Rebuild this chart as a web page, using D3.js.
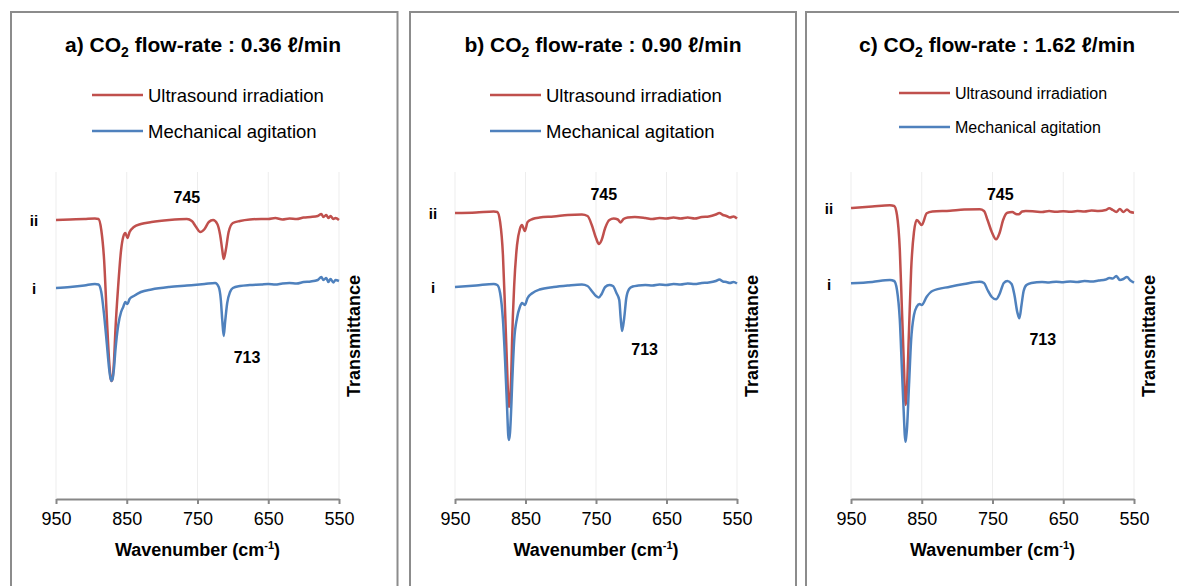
<!DOCTYPE html>
<html><head><meta charset="utf-8">
<script src="https://cdn.jsdelivr.net/npm/d3@7"></script>
<style>
body{margin:0;background:#fff;}
text{font-family:"Liberation Sans",Arial,Helvetica,sans-serif;fill:#000;}
</style>
</head><body>
<svg id="chart" width="1179" height="586"></svg>
<script>
// ---------- DATA (wavenumber cm-1, transmittance a.u.) ----------
const wavenumberTicks = [950, 850, 750, 650, 550];
const seriesNames = ["Ultrasound irradiation", "Mechanical agitation"];
const panelLetters = ["a)", "b)", "c)"];
const flowRates = ["0.36", "0.90", "1.62"];
const curveLabels = ["ii", "i"];
const peakLabels = ["745", "713"];

const a_ultrasound = [[950,279],[930,279.5],[910,280],[895,280.5],[890,280],[886,269],[882,239],[878,179],[875,139],[873,122],[871.5,118],[870,121],[868,138],[866,169],[862,214],[858,249],[855,262],[852,266],[849,261],[846,267],[840,272],[830,275],[815,277],[790,279],[765,280],[758,278],[752,272],[746,267],[740,270],[734,277],[728,279],[722,275],[718,264],[715,249],[713,240],[710,249],[706,267],[700,276],[690,278],[676,279.5],[660,280],[650,280],[640,281],[630,279.5],[620,280.5],[610,280],[600,281.5],[590,282],[580,283],[575,285],[572,282],[568,284],[565,281],[562,283],[558,280],[555,281],[550,279]];
const a_mechanical = [[950,211],[930,212],[910,213.5],[895,215],[890,214.5],[886,207],[882,184],[878,154],[875,131],[873,121],[871.5,118],[870,120],[868,131],[866,149],[862,174],[858,187],[855,192],[852,197],[849,195],[846,200],[840,203],[830,207],[815,209.5],[790,212],[765,213.5],[740,215],[725,216],[720,212],[717,199],[715,179],[713,163],[711,177],[708,196],[704,207],[700,211],[690,213],[676,214],[660,214.5],[650,215],[640,214.5],[630,215.5],[620,216],[610,215.5],[600,217],[590,217.5],[580,219],[575,222],[572,219],[568,221],[565,217],[562,220],[558,216.5],[555,219],[550,218]];

const b_ultrasound = [[950,286],[920,286.5],[895,287.5],[890,287],[886,277],[882,244],[879,189],[876,129],[874.5,100],[873.5,92],[872,98],[870,130],[869,159],[866,214],[862,254],[858,270],[855,274],[851,268],[847,277],[840,280],[830,281.5],[810,282.5],[790,284],[770,284.5],[762,283],[756,274],[750,261],[746,255],[742,259],[737,271],[731,279],[725,280.5],[719,279.5],[715,276.5],[711,280],[705,281.5],[695,282],[680,281],[670,280],[660,281],[650,280.5],[640,281.5],[630,280.5],[620,281.5],[610,280.5],[600,282],[590,282.5],[580,284.5],[575,286],[570,284],[565,283],[560,281.5],[555,282.5],[550,280.5]];
const b_mechanical = [[950,212],[920,213.5],[895,215],[890,214],[886,206],[882,179],[879,139],[876,89],[874.5,64],[873.5,59],[872,66],[870,95],[869,114],[866,159],[862,181],[858,192],[855,196],[851,194],[847,201],[840,206],[830,209.5],[810,212],[790,213.5],[770,214.5],[762,213],[756,208],[750,203],[746,201.5],[742,205],[737,212],[731,214],[726,213],[721,206],[717,199],[715,181],[713,168],[710,181],[707,201],[703,210],[698,212.5],[690,213.5],[680,214],[670,213.5],[660,214.5],[650,214],[640,215],[630,214.5],[620,215.5],[610,215],[600,216],[590,216.5],[580,218],[575,219.5],[570,217.5],[565,217],[560,216],[555,217],[550,215.5]];

const c_ultrasound = [[950,291],[920,292.5],[895,293.7],[889,293],[885,284],[881,249],[878,189],[875,129],[874,105],[873,94],[872,98],[871,109],[868,169],[865,229],[861,267],[857,279],[850,274],[843,285.7],[835,287.5],[810,288.3],[790,289.5],[768,289.7],[762,288],[757,279],[751,267],[745,259.7],[740,266],[735,279],[729,286.3],[722,287],[717,285],[713,284.7],[708,287.5],[703,288],[690,287.5],[680,287],[670,288],[660,287.2],[650,287.8],[640,287.2],[630,288],[620,287.5],[610,288.5],[600,288],[590,289],[585,290.7],[580,289],[575,287],[570,290],[565,287],[560,289.5],[555,287],[550,286.3]];
const c_mechanical = [[950,215.7],[920,217],[895,219],[889,218],[885,209],[881,179],[878,129],[875,79],[874,64],[873,57.3],[872,62],[871,69],[868,114],[865,159],[861,184],[857,192.3],[853,195],[850,194],[843,202.3],[835,208],[810,212.3],[790,215],[768,217.3],[762,216],[757,209],[751,202],[745,199.7],[740,205],[734,216],[729,218],[723,215],[719,204],[715,187],[712,180.7],[709,194],[706,208],[702,214],[695,216],[680,217],[670,216.5],[660,217.3],[650,216.8],[640,217.5],[630,217],[620,218],[610,217.5],[600,218.5],[590,219.5],[585,221],[580,220.5],[575,223],[570,219],[565,220],[560,222],[555,218.5],[550,216.3]];

const panelSeries = [[a_ultrasound, a_mechanical],[b_ultrasound, b_mechanical],[c_ultrasound, c_mechanical]];
// label anchor positions (wavenumber, a.u.)
const peak745Pos = [[765,302],[739,305],[739,305]];
const peak713Pos = [[680,142],[681,150],[679,160]];

// ---------- LAYOUT ----------
const colors = ["#C0504D", "#4F81BD"];
const layout = [
  {boxL:11, boxR:397.5, left:56, right:339, legX:92, legY:[95,131], legFont:18.5, titleX:203},
  {boxL:410, boxR:796, left:455, right:737, legX:490, legY:[95,131], legFont:18.5, titleX:603},
  {boxL:806, boxR:1200, left:851, right:1134, legX:899, legY:[93,127], legFont:16, titleX:997}
];
const plotTop = 172, plotBottom = 499;

const svg = d3.select("#chart");
svg.append("rect").attr("width",1179).attr("height",586).attr("fill","#fff");

layout.forEach((L, p) => {
  const g = svg.append("g");
  g.append("rect").attr("x", L.boxL).attr("y", 12).attr("width", L.boxR - L.boxL).attr("height", 600)
    .attr("fill", "none").attr("stroke", "#8c8c8c").attr("stroke-width", 2);

  const x = d3.scaleLinear().domain([950, 550]).range([L.left, L.right]);
  const y = d3.scaleLinear().domain([0, plotBottom - plotTop]).range([plotBottom, plotTop]);

  g.selectAll(".grid").data(wavenumberTicks).join("line")
    .attr("x1", d => x(d)).attr("x2", d => x(d))
    .attr("y1", plotTop).attr("y2", plotBottom)
    .attr("stroke", "#ededed").attr("stroke-width", 1);

  const ax = g.append("g").attr("transform", `translate(0,${plotBottom})`)
    .call(d3.axisBottom(x).tickValues(wavenumberTicks).tickSize(5).tickPadding(8).tickSizeOuter(0));
  ax.select(".domain").attr("stroke", "#878787").attr("stroke-width", 2);
  ax.selectAll(".tick line").attr("stroke", "#878787").attr("stroke-width", 2);
  ax.selectAll(".tick text").attr("font-size", 18).attr("font-family", '"Liberation Sans",Arial,sans-serif').attr("fill", "#000");

  const xt = g.append("text").attr("x", (L.left + L.right) / 2).attr("y", 556)
    .attr("text-anchor", "middle").attr("font-size", 18).attr("font-weight", "bold");
  xt.append("tspan").text("Wavenumber (cm");
  xt.append("tspan").text("-1").attr("font-size", 11).attr("dy", -7);
  xt.append("tspan").text(")").attr("dy", 7);

  g.append("text").attr("transform", `translate(${L.right + 21},336) rotate(-90)`)
    .attr("text-anchor", "middle").attr("font-size", 18).attr("font-weight", "bold").text("Transmittance");

  const t = g.append("text").attr("x", L.titleX).attr("y", 52).attr("text-anchor", "middle")
    .attr("font-size", 21).attr("font-weight", "bold");
  t.append("tspan").text(panelLetters[p] + " CO");
  t.append("tspan").text("2").attr("font-size", 14).attr("dy", 5);
  t.append("tspan").text(" flow-rate : " + flowRates[p] + " \u2113/min").attr("dy", -5);

  seriesNames.forEach((name, i) => {
    g.append("line").attr("x1", L.legX).attr("x2", L.legX + 51)
      .attr("y1", L.legY[i]).attr("y2", L.legY[i])
      .attr("stroke", colors[i]).attr("stroke-width", 2.5);
    g.append("text").attr("x", L.legX + 56).attr("y", L.legY[i]).attr("dy", "0.36em")
      .attr("font-size", L.legFont).text(name);
  });

  const line = d3.line().x(d => x(d[0])).y(d => y(d[1])).curve(d3.curveMonotoneX);
  panelSeries[p].forEach((data, i) => {
    g.append("path").datum(data).attr("d", line).attr("fill", "none")
      .attr("stroke", colors[i]).attr("stroke-width", 2.5).attr("stroke-linejoin", "round");
    g.append("text").attr("x", L.left - 22).attr("y", y(data[0][1]) + 1).attr("dy", "0.36em")
      .attr("text-anchor", "middle").attr("font-size", 15).attr("font-weight", "bold").text(curveLabels[i]);
  });

  g.append("text").attr("x", x(peak745Pos[p][0])).attr("y", y(peak745Pos[p][1])).attr("dy", "0.36em")
    .attr("text-anchor", "middle").attr("font-size", 16).attr("font-weight", "bold").text(peakLabels[0]);
  g.append("text").attr("x", x(peak713Pos[p][0])).attr("y", y(peak713Pos[p][1])).attr("dy", "0.36em")
    .attr("text-anchor", "middle").attr("font-size", 16).attr("font-weight", "bold").text(peakLabels[1]);
});
</script>
</body></html>
